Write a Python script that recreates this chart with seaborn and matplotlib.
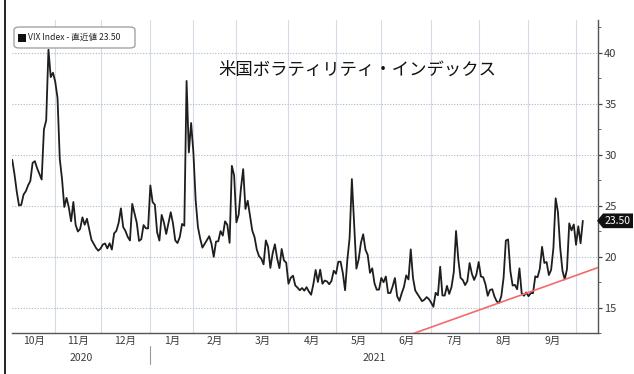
import numpy as np
import pandas as pd
import matplotlib
matplotlib.use("Agg")
import matplotlib.pyplot as plt
import matplotlib.transforms as mtransforms
from matplotlib.patches import FancyBboxPatch, Polygon, Rectangle
from matplotlib.lines import Line2D
import seaborn as sns

# VIX daily closes, 2020-10-06 .. 2021-10-06 (last value is the latest quote)
oct_2020 = [29.48, 28.06, 26.36, 25.00, 25.07, 26.07, 26.40, 26.97, 27.41, 29.18,
            29.35, 28.65, 28.11, 27.55, 32.46, 33.35, 40.28, 37.59, 38.02]
nov_2020 = [37.13, 35.55, 29.57, 27.58, 24.86, 25.75, 24.80, 23.45, 25.35, 23.10,
            22.45, 22.71, 23.84, 23.11, 23.70, 22.66, 21.64, 21.25, 20.84, 20.57]
dec_2020 = [20.77, 21.17, 21.28, 20.79, 21.30, 20.68, 22.27, 22.52, 23.31, 24.72,
            22.89, 22.50, 21.93, 21.57, 25.16, 24.23, 23.31, 21.53, 21.70, 23.08,
            22.77, 22.75]
jan_2021 = [26.97, 25.34, 25.07, 22.37, 21.56, 24.08, 23.33, 22.21, 23.25, 24.34,
            23.24, 21.58, 21.32, 21.91, 23.19, 23.02, 37.21, 30.21, 33.09]
feb_2021 = [30.24, 25.56, 22.91, 21.77, 20.87, 21.24, 21.63, 21.99, 21.25, 19.97,
            21.46, 21.50, 22.49, 22.05, 23.45, 23.11, 21.34, 28.89, 27.95]
mar_2021 = [23.35, 24.10, 26.67, 28.57, 24.66, 25.47, 24.03, 22.56, 21.91, 20.69,
            20.03, 19.79, 19.23, 21.58, 20.95, 18.88, 20.30, 21.20, 19.81, 18.86,
            20.74, 19.61, 19.40]
apr_2021 = [17.33, 17.91, 18.12, 17.16, 16.95, 16.69, 16.91, 16.65, 16.99, 16.57,
            16.25, 17.29, 18.68, 17.50, 18.71, 17.33, 17.64, 17.56, 17.28, 17.61,
            18.61]
may_2021 = [18.31, 19.48, 19.50, 18.39, 16.69, 19.66, 21.84, 27.59, 23.13, 18.81,
            19.72, 21.34, 22.18, 20.67, 20.15, 18.40, 18.84, 17.36, 16.74, 16.76]
jun_2021 = [17.90, 17.48, 18.04, 16.42, 16.42, 17.07, 17.89, 16.10, 15.65, 16.39,
            17.02, 18.15, 17.75, 20.70, 17.89, 16.66, 16.32, 15.97, 15.62, 15.76,
            16.02, 15.83]
jul_2021 = [15.48, 15.07, 16.44, 16.20, 19.00, 16.18, 16.17, 17.12, 16.33, 17.01,
            18.45, 22.50, 19.73, 17.91, 17.69, 17.20, 17.58, 19.36, 18.31, 17.70,
            18.24]
aug_2021 = [19.46, 18.04, 17.97, 17.28, 16.15, 16.72, 16.79, 16.06, 15.59, 15.45,
            16.12, 17.91, 21.57, 21.67, 18.56, 17.15, 17.22, 16.79, 18.84, 16.39,
            16.15, 16.48]
sep_2021 = [16.11, 16.41, 16.41, 18.06, 17.96, 18.80, 20.95, 19.37, 19.46, 18.18,
            18.69, 20.81, 25.71, 24.36, 20.87, 18.63, 17.75, 18.76, 23.25, 22.56,
            23.14]
oct_2021 = [21.15, 22.96, 21.30, 23.50]

market_holidays = ["2020-11-26", "2020-12-25", "2021-01-01", "2021-01-18",
                   "2021-02-15", "2021-04-02", "2021-05-31", "2021-07-05",
                   "2021-09-06"]

# support line drawn through two lows
support_dates = ["2021-08-13", "2021-09-24"]
support_values = [15.45, 17.75]

month_labels = ["10月", "11月", "12月", "1月", "2月", "3月", "4月", "5月",
                "6月", "7月", "8月", "9月"]
year_labels = ["2020", "2021"]
y_ticks = [15, 20, 25, 30, 35, 40]

legend_text = "VIX Index - 直近値 23.50"
title_text = "米国ボラティリティ・インデックス"

# ---------------------------------------------------------------------------
vix = (oct_2020 + nov_2020 + dec_2020 + jan_2021 + feb_2021 + mar_2021 +
       apr_2021 + may_2021 + jun_2021 + jul_2021 + aug_2021 + sep_2021 + oct_2021)
dates = pd.bdate_range("2020-10-06", "2021-10-06", freq="C",
                       holidays=market_holidays)
assert len(dates) == len(vix)
df = pd.DataFrame({"date": dates, "vix": vix, "pos": np.arange(len(vix))})
last_value = vix[-1]

W, H = 634, 374
sns.set_theme(style="white")
plt.rcParams["font.family"] = ["Noto Sans CJK JP", "DejaVu Sans"]

fig = plt.figure(figsize=(W / 100, H / 100), dpi=100)
ax = fig.add_axes([12 / W, 41 / H, 586 / W, 313 / H])

sns.lineplot(data=df, x="pos", y="vix", ax=ax, color="#1e1e1e", linewidth=1.3)

# axis limits
x_max = 258.7
ax.set_xlim(-0.1, x_max)
ax.set_ylim(12.68, 43.19)

# support line
pos_of = {d: p for d, p in zip(df["date"].dt.strftime("%Y-%m-%d"), df["pos"])}
p0, p1 = pos_of[support_dates[0]], pos_of[support_dates[1]]
slope = (support_values[1] - support_values[0]) / (p1 - p0)
xs = np.array([150, x_max])
ax.plot(xs, support_values[0] + slope * (xs - p0), color="#f26a6a", lw=1.2,
        zorder=3)

# month boundaries
month_id = df["date"].dt.year * 12 + df["date"].dt.month
starts = df["pos"][month_id.diff().fillna(0) != 0].tolist()
edges = [ax.get_xlim()[0]] + starts
mids = [(a + b) / 2 for a, b in zip(edges[:-1], edges[1:])]

ax.set_xticks(starts)
ax.set_xticklabels([])
ax.set_xticks(mids[:len(month_labels)], minor=True)
ax.set_xticklabels(month_labels, minor=True)
ax.tick_params(axis="x", which="major", direction="inout", length=5,
               width=0.9, color="#444")
ax.tick_params(axis="x", which="minor", length=0, pad=2, labelsize=7.5,
               labelcolor="#3a3a3a")
ax.set_xlabel("")

# right-hand value axis
ax.yaxis.tick_right()
ax.set_yticks(y_ticks)
ax.set_yticks(np.arange(12.5, 43.1, 2.5), minor=True)
ax.tick_params(axis="y", which="major", direction="out", length=3, width=0.9,
               color="#444", pad=1.5, labelsize=8, labelcolor="#3a3a3a",
               right=True, left=False)
ax.tick_params(axis="y", which="minor", direction="out", length=2, width=0.7,
               color="#666", right=True, left=False)
ax.set_ylabel("")

ax.grid(axis="y", which="major", color="#aab6c6", linestyle=(0, (1, 1.5)),
        linewidth=0.8)
ax.grid(axis="x", which="major", color="#d3dce8", linestyle="-", linewidth=0.8)

for side in ("left", "top"):
    ax.spines[side].set_visible(False)
for side in ("right", "bottom"):
    ax.spines[side].set_color("#555")
    ax.spines[side].set_linewidth(1.0)

# year labels and separator under the axis
jan_pos = starts[2]
xt = mtransforms.blended_transform_factory(ax.transData, ax.transAxes)
ax.text((ax.get_xlim()[0] + jan_pos) / 2, -0.065, year_labels[0], transform=xt,
        ha="center", va="top", fontsize=7.5, color="#3a3a3a")
ax.text((jan_pos + x_max) / 2, -0.065, year_labels[1], transform=xt,
        ha="center", va="top", fontsize=7.5, color="#3a3a3a")
ax.add_line(Line2D([jan_pos, jan_pos], [-0.04, -0.1], transform=xt,
                   color="#999", lw=0.8, clip_on=False))

# legend box
fig.patches.append(FancyBboxPatch((14 / W, 1 - 48 / H), 121 / W, 21 / H,
                                  boxstyle="round,pad=0,rounding_size=0.008",
                                  transform=fig.transFigure, facecolor="white",
                                  edgecolor="#9a9a9a", lw=0.9, zorder=5))
fig.patches.append(Rectangle((18 / W, 1 - 41.5 / H), 8 / W, 8 / H,
                             transform=fig.transFigure, facecolor="#111",
                             edgecolor="none", zorder=6))
fig.text(28.5 / W, 1 - 37.5 / H, legend_text, fontsize=6.2, color="#222",
         ha="left", va="center", zorder=7)

# title
fig.text(357 / W, 1 - 70 / H, title_text, fontsize=12.5, color="#111",
         ha="center", va="center")

# latest-value tag on the value axis
tt = mtransforms.blended_transform_factory(fig.transFigure, ax.transData)
hh = 0.72
tag = Polygon([(597 / W, last_value), (603 / W, last_value + hh),
               (633 / W, last_value + hh), (633 / W, last_value - hh),
               (603 / W, last_value - hh)], closed=True, transform=tt,
              facecolor="#111", edgecolor="none", clip_on=False, zorder=6)
ax.add_patch(tag)
ax.text(618 / W, last_value, f"{last_value:.2f}", transform=tt, ha="center",
        va="center", fontsize=7.5, color="white", zorder=7, clip_on=False)

# outer frame edge on the left
fig.add_artist(Line2D([5 / W, 5 / W], [0, 1], transform=fig.transFigure,
                      color="#222", lw=1.4))

fig.savefig("out.png", dpi=100)
